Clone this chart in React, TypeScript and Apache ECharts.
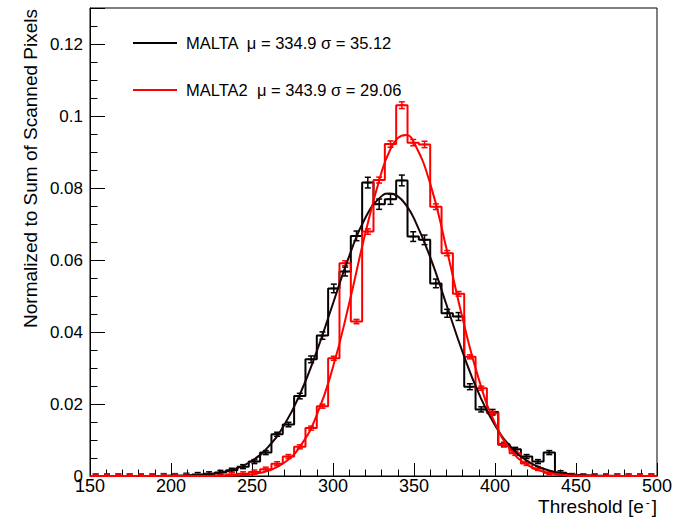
import React, { useEffect, useRef } from "react";
import * as echarts from "echarts";

// Histogram binning (lower bin edges, width 7 e-)
const binLowEdges: number[] = [
  150, 157, 164, 171, 178, 185, 192, 199, 206, 213, 220, 227, 234, 241, 248, 255, 262, 269, 276, 283,
  290, 297, 304, 311, 318, 325, 332, 339, 346, 353, 360, 367, 374, 381, 388, 395, 402, 409, 416, 423,
  430, 437, 444, 451, 458, 465, 472, 479, 486, 493,
];
const binWidth = 7;

// MALTA (black) normalized bin contents
const maltaValues: number[] = [
  0, 0, 0, 0, 0, 0, 0.0001, 0.0001, 0.0002, 0.0004, 0.0006, 0.001, 0.0016, 0.0026, 0.004, 0.0065,
  0.0116, 0.0143, 0.0222, 0.0324, 0.039, 0.0521, 0.0568, 0.0667, 0.0815, 0.0755, 0.0769, 0.0821,
  0.0665, 0.0656, 0.0535, 0.0452, 0.0443, 0.0248, 0.0185, 0.0178, 0.0088, 0.0074, 0.0054, 0.004,
  0.0065, 0.0009, 0.0001, 0, 0, 0, 0, 0, 0, 0,
];
const maltaErrors: number[] = [
  0, 0, 0, 0, 0, 0, 0.00005, 0.00005, 0.00007, 0.0001, 0.00013, 0.00016, 0.00021, 0.00027, 0.00033,
  0.00042, 0.00056, 0.00062, 0.00077, 0.00094, 0.00103, 0.00119, 0.00124, 0.00134, 0.00148, 0.00143,
  0.00144, 0.00149, 0.00134, 0.00133, 0.0012, 0.0011, 0.00109, 0.00082, 0.00071, 0.00069, 0.00049,
  0.00045, 0.00038, 0.00033, 0.00042, 0.00016, 0.00005, 0, 0, 0, 0, 0, 0, 0,
];

// MALTA2 (red) normalized bin contents
const malta2Values: number[] = [
  0, 0, 0, 0, 0, 0, 0, 0, 0, 0, 0.0001, 0.0002, 0.0004, 0.0006, 0.0011, 0.0019, 0.0034, 0.0054,
  0.0081, 0.0133, 0.0194, 0.0327, 0.0591, 0.0429, 0.0679, 0.0822, 0.0922, 0.103, 0.0926, 0.0921,
  0.0748, 0.0619, 0.0506, 0.0331, 0.0244, 0.0174, 0.0086, 0.0063, 0.0035, 0.0021, 0.0009, 0.0004,
  0.0001, 0, 0, 0, 0, 0, 0, 0,
];
const malta2Errors: number[] = [
  0, 0, 0, 0, 0, 0, 0, 0, 0, 0, 0.00003, 0.00004, 0.00006, 0.00007, 0.0001, 0.00013, 0.00017, 0.00021,
  0.00026, 0.00033, 0.0004, 0.00052, 0.0007, 0.0006, 0.00075, 0.00083, 0.00088, 0.00093, 0.00088,
  0.00088, 0.00079, 0.00072, 0.00065, 0.00053, 0.00045, 0.00038, 0.00027, 0.00023, 0.00017, 0.00013,
  0.00009, 0.00006, 0.00003, 0, 0, 0, 0, 0, 0, 0,
];

// Gaussian fit curves
const fitX: number[] = [
  180, 190, 200, 210, 220, 230, 240, 250, 260, 270, 280, 290, 300, 310, 320, 330, 335, 340, 345, 350,
  360, 370, 380, 390, 400, 410, 420, 430, 440, 450, 460, 470, 480, 490,
];
const maltaFit: number[] = [
  0, 0.00002, 0.00005, 0.00014, 0.00037, 0.00091, 0.00204, 0.00423, 0.00808, 0.01423, 0.02313,
  0.03467, 0.04791, 0.06106, 0.07174, 0.07774, 0.0785, 0.07768, 0.07532, 0.07157, 0.06081, 0.04764,
  0.03442, 0.02293, 0.01408, 0.00798, 0.00417, 0.00201, 0.00089, 0.00037, 0.00014, 0.00005, 0.00002, 0,
];
const malta2Fit: number[] = [
  0, 0, 0, 0, 0.00001, 0.00004, 0.00016, 0.00051, 0.00147, 0.00373, 0.00844, 0.01696, 0.03026,
  0.04796, 0.06752, 0.08446, 0.09036, 0.09385, 0.0947, 0.09264, 0.08122, 0.06327, 0.04378, 0.02691,
  0.01469, 0.00712, 0.00307, 0.00118, 0.0004, 0.00012, 0.00003, 0.00001, 0, 0,
];

const legendLabels: string[] = ["MALTA  \u03bc = 334.9 \u03c3 = 35.12", "MALTA2  \u03bc = 343.9 \u03c3 = 29.06"];
const xTitle = "Threshold [e";
const yTitle = "Normalized to Sum of Scanned Pixels";

const FONT = "'Liberation Sans', Arial, Helvetica, sans-serif";
const BLACK = "#000000";
const FIT_BLACK = "#1a0404";
const RED = "#ff0000";

function stepData(vals: number[]): number[][] {
  const pts = binLowEdges.map((e, i) => [e, vals[i]]);
  pts.push([binLowEdges[binLowEdges.length - 1] + binWidth, vals[vals.length - 1]]);
  return pts;
}

function errData(vals: number[], errs: number[]): number[][] {
  return binLowEdges.map((e, i) => [e + binWidth / 2, vals[i], errs[i]]);
}

function errRender(color: string) {
  return (params: any, api: any) => {
    const x = api.value(0);
    const y = api.value(1);
    const e = api.value(2);
    const c = api.coord([x, y]);
    const t = api.coord([x, y + e]);
    const b = api.coord([x, y - e]);
    let y1 = t[1];
    let y2 = b[1];
    if (y2 - y1 < 4) {
      y1 = c[1] - 2;
      y2 = c[1] + 2;
    }
    const cap = 3;
    const style = { stroke: color, lineWidth: 1.5 };
    return {
      type: "group",
      children: [
        { type: "line", shape: { x1: c[0], y1, x2: c[0], y2 }, style },
        { type: "line", shape: { x1: c[0] - cap, y1, x2: c[0] + cap, y2: y1 }, style },
        { type: "line", shape: { x1: c[0] - cap, y1: y2, x2: c[0] + cap, y2 }, style },
        { type: "line", shape: { x1: c[0] - cap, y1: c[1], x2: c[0] + cap, y2: c[1] }, style },
      ],
    };
  };
}

export default function App() {
  const ref = useRef<HTMLDivElement>(null);
  useEffect(() => {
    if (!ref.current) return;
    const chart = echarts.init(ref.current, null, { renderer: "svg" });
    const option: any = {
      animation: false,
      backgroundColor: "#ffffff",
      grid: {
        left: 90,
        right: 26,
        top: 8,
        bottom: 41,
        show: true,
        borderColor: "#000",
        borderWidth: 1,
        containLabel: false,
      },
      xAxis: {
        type: "value",
        min: 150,
        max: 500,
        interval: 50,
        axisLine: { show: true, onZero: false, lineStyle: { color: "#000", width: 1 } },
        axisTick: { show: true, inside: true, length: 13, lineStyle: { color: "#000", width: 1 } },
        minorTick: { show: true, splitNumber: 5, length: 6.5, lineStyle: { color: "#000", width: 1 } },
        splitLine: { show: false },
        axisLabel: { color: "#000", fontSize: 18, fontFamily: FONT, margin: 1 },
      },
      yAxis: {
        type: "value",
        min: 0,
        max: 0.13,
        interval: 0.02,
        axisLine: { show: true, onZero: false, lineStyle: { color: "#000", width: 1 } },
        axisTick: { show: true, inside: true, length: 15, lineStyle: { color: "#000", width: 1 } },
        minorTick: { show: true, splitNumber: 4, length: 7.5, lineStyle: { color: "#000", width: 1 } },
        splitLine: { show: false },
        axisLabel: { color: "#000", fontSize: 17, fontFamily: FONT, margin: 7, showMaxLabel: false },
      },
      series: [
        {
          type: "line",
          step: "end",
          data: stepData(maltaValues),
          showSymbol: false,
          lineStyle: { color: BLACK, width: 2 },
          z: 2,
        },
        {
          type: "custom",
          data: errData(maltaValues, maltaErrors),
          renderItem: errRender(BLACK),
          clip: true,
          z: 2,
        },
        {
          type: "line",
          step: "end",
          data: stepData(malta2Values),
          showSymbol: false,
          lineStyle: { color: RED, width: 2 },
          z: 3,
        },
        {
          type: "custom",
          data: errData(malta2Values, malta2Errors),
          renderItem: errRender(RED),
          clip: true,
          z: 3,
        },
        {
          type: "line",
          smooth: true,
          data: fitX.map((x, i) => [x, maltaFit[i]]),
          showSymbol: false,
          lineStyle: { color: FIT_BLACK, width: 2 },
          z: 4,
        },
        {
          type: "line",
          smooth: true,
          data: fitX.map((x, i) => [x, malta2Fit[i]]),
          showSymbol: false,
          lineStyle: { color: RED, width: 2 },
          z: 5,
        },
      ],
      graphic: [
        { type: "line", shape: { x1: 133, y1: 43, x2: 177, y2: 43 }, style: { stroke: BLACK, lineWidth: 2 } },
        {
          type: "text",
          x: 186,
          y: 43,
          style: { text: legendLabels[0], fill: "#000", fontSize: 16.5, fontFamily: FONT, verticalAlign: "middle" },
        },
        { type: "line", shape: { x1: 133, y1: 90, x2: 177, y2: 90 }, style: { stroke: RED, lineWidth: 2 } },
        {
          type: "text",
          x: 186,
          y: 90,
          style: { text: legendLabels[1], fill: "#000", fontSize: 16.5, fontFamily: FONT, verticalAlign: "middle" },
        },
        {
          type: "text",
          x: 657,
          y: 506,
          style: {
            text: xTitle + "{sup|-}]",
            fill: "#000",
            fontSize: 19,
            fontFamily: FONT,
            align: "right",
            verticalAlign: "middle",
            rich: { sup: { fontSize: 12, fontFamily: FONT, fill: "#000", verticalAlign: "top", lineHeight: 14, padding: [0, 2, 0, 2] } },
          },
        },
        {
          type: "text",
          x: 30,
          y: 9,
          rotation: Math.PI / 2,
          style: {
            text: yTitle,
            fill: "#000",
            fontSize: 19,
            fontFamily: FONT,
            align: "right",
            verticalAlign: "middle",
          },
        },
      ],
    };
    chart.setOption(option);
    return () => chart.dispose();
  }, []);
  return (
    <div
      ref={ref}
      style={{ position: "fixed", left: 0, top: 0, width: 683, height: 517, background: "#fff" }}
    />
  );
}
